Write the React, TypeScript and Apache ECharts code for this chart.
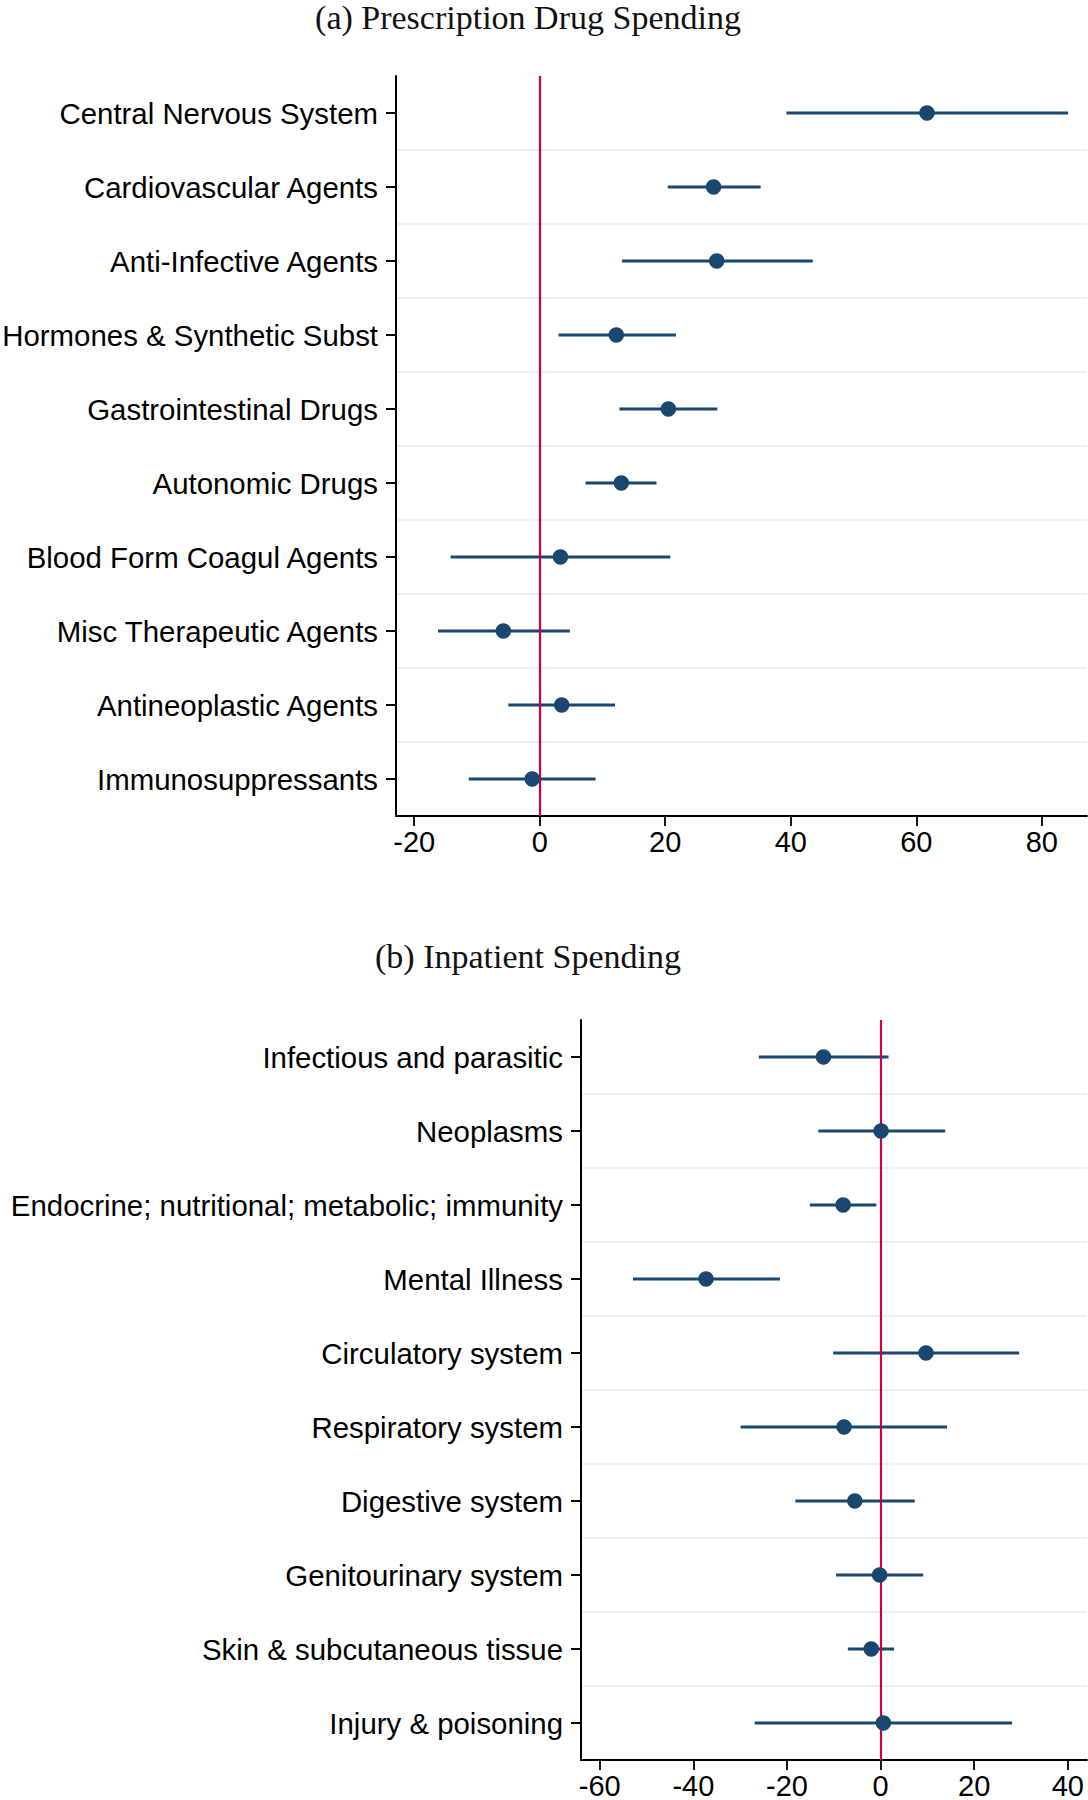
import React, { useEffect, useRef } from "react";
import * as echarts from "echarts";

const drugCategories = [
  "Central Nervous System",
  "Cardiovascular Agents",
  "Anti-Infective Agents",
  "Hormones & Synthetic Subst",
  "Gastrointestinal Drugs",
  "Autonomic Drugs",
  "Blood Form Coagul Agents",
  "Misc Therapeutic Agents",
  "Antineoplastic Agents",
  "Immunosuppressants",
];
const drugPoint = [61.7, 27.7, 28.2, 12.2, 20.5, 13.0, 3.3, -5.8, 3.5, -1.2];
const drugLow = [39.3, 20.4, 13.1, 3.0, 12.7, 7.3, -14.2, -16.2, -5.0, -11.3];
const drugHigh = [84.2, 35.2, 43.5, 21.7, 28.3, 18.6, 20.8, 4.8, 12.0, 8.9];
const drugTicks = [-20, 0, 20, 40, 60, 80];
const drugRange = [-22.9, 87.2];

const inpatientCategories = [
  "Infectious and parasitic",
  "Neoplasms",
  "Endocrine; nutritional; metabolic; immunity",
  "Mental Illness",
  "Circulatory system",
  "Respiratory system",
  "Digestive system",
  "Genitourinary system",
  "Skin & subcutaneous tissue",
  "Injury & poisoning",
];
const inpatientPoint = [-12.2, 0.1, -8.0, -37.3, 9.7, -7.8, -5.5, -0.2, -2.0, 0.6];
const inpatientLow = [-26.0, -13.3, -15.1, -52.9, -10.1, -29.9, -18.2, -9.5, -7.0, -26.9];
const inpatientHigh = [1.7, 13.8, -0.9, -21.5, 29.6, 14.2, 7.3, 9.1, 2.9, 28.1];
const inpatientTicks = [-60, -40, -20, 0, 20, 40];
const inpatientRange = [-64.0, 44.1];

const titles = ["(a) Prescription Drug Spending", "(b) Inpatient Spending"];

const NAVY = "#1a476f";
const RED = "#d2003a";
const GRID = "#e8f0f2";
const SANS = "Liberation Sans, Arial, sans-serif";
const SERIF = "Liberation Serif, Times New Roman, serif";

function axes(gi: number, cats: string[], ticks: number[], range: number[]) {
  const xAxis = {
    type: "value",
    gridIndex: gi,
    min: range[0],
    max: range[1],
    axisLine: { show: true, onZero: false, lineStyle: { color: "#000", width: 1.8 } },
    axisTick: { show: true, length: 10, customValues: ticks, lineStyle: { color: "#000", width: 1.8 } },
    axisLabel: { customValues: ticks, fontSize: 29, fontFamily: SANS, color: "#000", margin: 11 },
    splitLine: { show: false },
  };
  const yAxis = {
    type: "category",
    gridIndex: gi,
    data: cats,
    inverse: true,
    boundaryGap: true,
    axisLine: { show: true, onZero: false, lineStyle: { color: "#000", width: 2 } },
    axisTick: { show: true, alignWithLabel: true, length: 10, lineStyle: { color: "#000", width: 2 } },
    axisLabel: { interval: 0, fontSize: 29.4, fontFamily: SANS, color: "#000", margin: 18 },
    splitLine: {
      show: true,
      interval: (i: number) => i !== 0,
      lineStyle: { color: GRID, width: 2 },
    },
  };
  return { xAxis, yAxis };
}

function series(gi: number, cats: string[], point: number[], low: number[], high: number[]) {
  return [
    {
      type: "custom",
      xAxisIndex: gi,
      yAxisIndex: gi,
      z: 2,
      encode: { y: 0, x: [1, 2] },
      data: cats.map((c, i) => [c, low[i], high[i]]),
      renderItem: (params: any, api: any) => {
        const idx = api.value(0);
        const a = api.coord([api.value(1), idx]);
        const b = api.coord([api.value(2), idx]);
        return {
          type: "line",
          shape: { x1: a[0], y1: a[1], x2: b[0], y2: b[1] },
          style: { stroke: NAVY, lineWidth: 3 },
        };
      },
    },
    {
      type: "line",
      xAxisIndex: gi,
      yAxisIndex: gi,
      z: 3,
      data: [],
      markLine: {
        silent: true,
        z: 3,
        symbol: "none",
        label: { show: false },
        lineStyle: { color: RED, width: 2.2, type: "solid" },
        data: [{ xAxis: 0 }],
      },
    },
    {
      type: "scatter",
      xAxisIndex: gi,
      yAxisIndex: gi,
      z: 10,
      symbol: "circle",
      symbolSize: 15.5,
      itemStyle: { color: NAVY, opacity: 1 },
      data: cats.map((c, i) => [point[i], c]),
    },
  ];
}

export default function App() {
  const ref = useRef<HTMLDivElement>(null);
  useEffect(() => {
    document.body.style.margin = "0";
    const chart = echarts.init(ref.current as HTMLDivElement, null, { renderer: "svg" });
    const a = axes(0, drugCategories, drugTicks, drugRange);
    const b = axes(1, inpatientCategories, inpatientTicks, inpatientRange);
    chart.setOption({
      animation: false,
      backgroundColor: "#fff",
      grid: [
        { left: 396, top: 76, width: 691, height: 740, containLabel: false, outerBoundsMode: "none" },
        { left: 581, top: 1020, width: 506, height: 740, containLabel: false, outerBoundsMode: "none" },
      ],
      xAxis: [a.xAxis, b.xAxis],
      yAxis: [a.yAxis, b.yAxis],
      series: [
        ...series(0, drugCategories, drugPoint, drugLow, drugHigh),
        ...series(1, inpatientCategories, inpatientPoint, inpatientLow, inpatientHigh),
      ],
      graphic: [
        {
          type: "text",
          x: 528,
          y: 17,
          style: { text: titles[0], fontSize: 34, fontFamily: SERIF, fill: "#111", align: "center", verticalAlign: "middle" },
        },
        {
          type: "text",
          x: 528,
          y: 956,
          style: { text: titles[1], fontSize: 34, fontFamily: SERIF, fill: "#111", align: "center", verticalAlign: "middle" },
        },
      ],
    });
    return () => chart.dispose();
  }, []);
  return <div ref={ref} style={{ width: 1088, height: 1800 }} />;
}
